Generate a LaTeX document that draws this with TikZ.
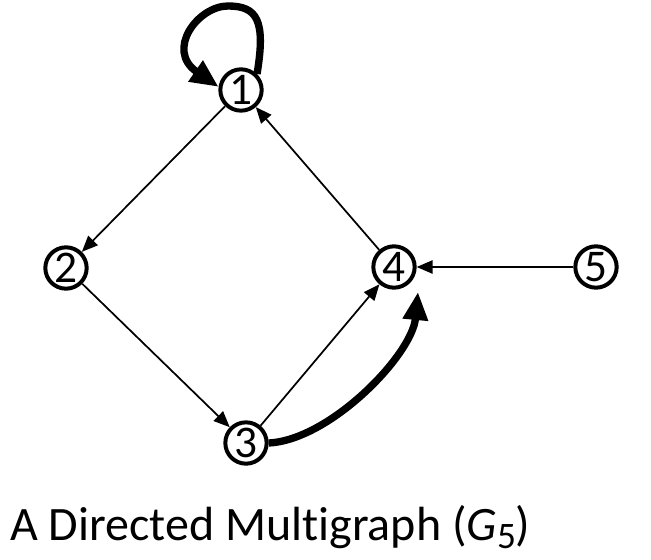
\documentclass[tikz,border=0pt]{standalone}
\usepackage{fontspec}
\setmainfont{Carlito}[Ligatures={NoCommon}]
\usetikzlibrary{arrows.meta}
\tikzset{
  vert/.style={circle, draw, line width=3pt, inner sep=0pt, minimum size=31pt, font=\fontsize{34}{34}\selectfont},
  thinedge/.style={line width=1.3pt, -{Triangle[length=12pt, width=10pt]}},
  thickedge/.style={line width=5.5pt, -{Triangle[length=21pt, width=18pt]}},
  caption/.style={anchor=base west, inner sep=0pt, font=\fontsize{36}{36}\selectfont}
}
\begin{document}
\begin{tikzpicture}[x=0.75pt, y=-0.75pt]
\useasboundingbox (0,0) rectangle (651,560);
\node[vert] (n1) at (241,90) {1};
\node[vert] (n2) at (66,268) {2};
\node[vert] (n3) at (246,443) {3};
\node[vert] (n4) at (394,267) {4};
\node[vert] (n5) at (596,267) {5};
\coordinate (t4) at (418,292);
\draw[thinedge] (n1) -- (n2);
\draw[thinedge] (n2) -- (n3);
\draw[thinedge] (n3) -- (n4);
\draw[thinedge] (n4) -- (n1);
\draw[thinedge] (n5) -- (n4);
\draw[thickedge] (n1.45) .. controls (266,20) and (257,6) .. (228,6)
  .. controls (198,6) and (165,50) .. (n1.172);
\draw[thickedge] (n3.east) .. controls (330,440) and (412,355) .. (t4);
\node[caption] (cap) at (10,540) {A Directed Multigraph ({\itshape G}\raisebox{-0.35ex}{\fontsize{28}{28}\selectfont 5})};
\end{tikzpicture}
\end{document}
